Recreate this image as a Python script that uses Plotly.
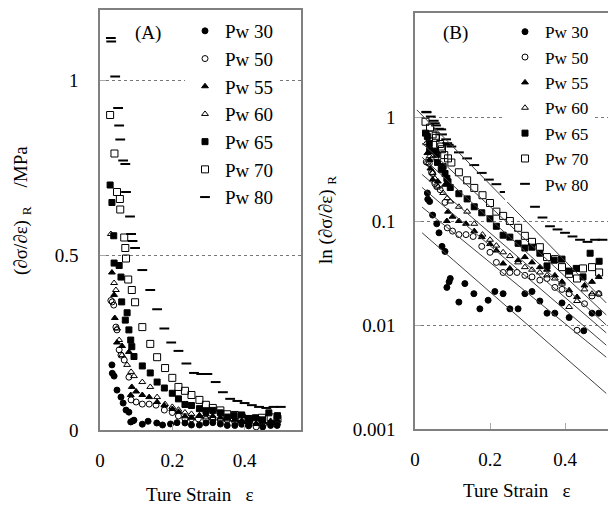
import plotly.graph_objects as go

# Strain / tangent-modulus readings for each Pw series (same data in both panels)
x30 = [0.033, 0.034, 0.039, 0.047, 0.058, 0.064, 0.072, 0.08, 0.085, 0.091, 0.094, 0.117, 0.133, 0.157, 0.173,
       0.195, 0.213, 0.235, 0.253, 0.275, 0.293, 0.312, 0.333, 0.352, 0.373, 0.392, 0.411, 0.45, 0.472, 0.49]
y30 = [0.186, 0.162, 0.154, 0.114, 0.094, 0.077, 0.057, 0.051, 0.023, 0.026, 0.028, 0.0166, 0.025, 0.020, 0.0143,
       0.0173, 0.021, 0.020, 0.0143, 0.0143, 0.020, 0.021, 0.017, 0.013, 0.013, 0.0163, 0.0118, 0.0088, 0.013, 0.013]

x50 = [0.03, 0.034, 0.038, 0.044, 0.047, 0.053, 0.058, 0.067, 0.08, 0.086, 0.1, 0.117, 0.136, 0.155, 0.178, 0.2,
       0.217, 0.235, 0.253, 0.272, 0.293, 0.312, 0.333, 0.352, 0.373, 0.392, 0.411, 0.432, 0.452, 0.472, 0.49]
y50 = [0.37, 0.366, 0.357, 0.294, 0.286, 0.229, 0.214, 0.20, 0.151, 0.086, 0.08, 0.074, 0.074, 0.071, 0.057, 0.05,
       0.04, 0.032, 0.032, 0.032, 0.03, 0.029, 0.027, 0.028, 0.023, 0.022, 0.02, 0.0089, 0.016, 0.019, 0.020]

x55 = [0.033, 0.039, 0.041, 0.047, 0.061, 0.08, 0.085, 0.088, 0.1, 0.117, 0.136, 0.158, 0.178, 0.2, 0.217, 0.235,
       0.253, 0.275, 0.293, 0.312, 0.333, 0.352, 0.373, 0.392, 0.411, 0.432, 0.452, 0.472, 0.49]
y55 = [0.45, 0.386, 0.32, 0.25, 0.24, 0.223, 0.10, 0.123, 0.11, 0.10, 0.094, 0.08, 0.07, 0.06, 0.052, 0.039,
       0.035, 0.042, 0.045, 0.04, 0.036, 0.034, 0.03, 0.026, 0.0216, 0.0186, 0.024, 0.026, 0.029]

x60 = [0.03, 0.039, 0.044, 0.047, 0.053, 0.061, 0.075, 0.086, 0.094, 0.117, 0.139, 0.158, 0.18, 0.2, 0.217, 0.235,
       0.253, 0.275, 0.293, 0.312, 0.333, 0.352, 0.373, 0.392, 0.411, 0.432, 0.452, 0.472, 0.49]
y60 = [0.56, 0.42, 0.40, 0.29, 0.257, 0.214, 0.186, 0.166, 0.154, 0.137, 0.123, 0.094, 0.074, 0.066, 0.058, 0.05,
       0.046, 0.04, 0.036, 0.034, 0.032, 0.03, 0.028, 0.025, 0.0149, 0.017, 0.022, 0.02, 0.02]

x65 = [0.028, 0.033, 0.038, 0.039, 0.053, 0.058, 0.06, 0.07, 0.075, 0.08, 0.085, 0.088, 0.094, 0.117, 0.139, 0.158,
       0.178, 0.2, 0.217, 0.235, 0.253, 0.275, 0.293, 0.312, 0.333, 0.352, 0.371, 0.392, 0.411, 0.43, 0.448, 0.467, 0.491]
y65 = [0.70, 0.65, 0.555, 0.477, 0.47, 0.437, 0.366, 0.314, 0.335, 0.286, 0.257, 0.238, 0.21, 0.183, 0.163, 0.137,
       0.12, 0.105, 0.089, 0.073, 0.070, 0.061, 0.055, 0.056, 0.049, 0.037, 0.042, 0.043, 0.033, 0.035, 0.029, 0.049, 0.041]

x70 = [0.028, 0.04, 0.047, 0.055, 0.056, 0.067, 0.07, 0.072, 0.078, 0.088, 0.097, 0.117, 0.139, 0.158, 0.18, 0.2,
       0.217, 0.235, 0.253, 0.275, 0.293, 0.312, 0.333, 0.352, 0.373, 0.392, 0.411, 0.432, 0.448, 0.472, 0.491]
y70 = [0.90, 0.79, 0.68, 0.66, 0.63, 0.55, 0.52, 0.49, 0.43, 0.40, 0.365, 0.294, 0.246, 0.208, 0.177, 0.149,
       0.123, 0.112, 0.10, 0.086, 0.072, 0.063, 0.056, 0.045, 0.043, 0.036, 0.031, 0.028, 0.035, 0.036, 0.032]

x80 = [0.03, 0.031, 0.042, 0.05, 0.053, 0.056, 0.064, 0.07, 0.072, 0.083, 0.086, 0.09, 0.097, 0.117, 0.139, 0.158,
       0.178, 0.197, 0.217, 0.239, 0.26, 0.28, 0.297, 0.32, 0.34, 0.36, 0.38, 0.40, 0.42, 0.44, 0.46, 0.48, 0.50]
y80 = [1.12, 1.11, 1.01, 0.92, 0.87, 0.83, 0.77, 0.76, 0.68, 0.61, 0.56, 0.54, 0.52, 0.457, 0.40, 0.345,
       0.29, 0.25, 0.226, 0.19, 0.163, 0.16, 0.16, 0.137, 0.108, 0.089, 0.083, 0.077, 0.071, 0.066, 0.063, 0.066, 0.066]

series_names = ["Pw 30", "Pw 50", "Pw 55", "Pw 60", "Pw 65", "Pw 70", "Pw 80"]
series_x = [x30, x50, x55, x60, x65, x70, x80]
series_y = [y30, y50, y55, y60, y65, y70, y80]

# Exponential fit lines of panel B (straight on the log axis): start/end points
fit_x0 = [0.005, 0.019, 0.019, 0.019, 0.019, 0.019, 0.019]
fit_y0 = [1.17, 0.56, 0.41, 0.28, 0.21, 0.136, 0.077]
fit_x1 = [0.51, 0.51, 0.51, 0.51, 0.51, 0.51, 0.51]
fit_y1 = [0.0163, 0.0125, 0.0100, 0.0084, 0.0064, 0.0049, 0.0022]

# Tick labels
xticks = [0, 0.2, 0.4]
xtick_text = ["0", "0.2", "0.4"]
ya_ticks = [0, 0.5, 1]
ya_text = ["0", "0.5", "1"]
yb_ticks = [0.001, 0.01, 0.1, 1, 10]
yb_text = ["0.001", "0.01", "0.1", "1", "10"]

# marker styling per series
symbols = ["circle", "circle-open", "triangle-up", "triangle-up-open", "square", "square-open", "line-ew"]
sizes = [6, 6, 6, 6, 6, 7, 7]

# page body has an 8px margin, so the figure is 8px smaller and all
# positions below are given in window pixels and shifted by OFF
OFF = 8
W, H = 616 - OFF, 506 - OFF
FONT = "Liberation Serif"
AXC = "#808080"


def px(x):
    return (x - OFF) / W


def py(y):
    return 1 - (y - OFF) / H


fig = go.Figure()

for name, xs, ys, sym, sz in zip(series_names, series_x, series_y, symbols, sizes):
    marker = dict(symbol=sym, size=sz, color="black", line=dict(color="black", width=1))
    if sym == "line-ew":
        marker["line"] = dict(color="black", width=2)
    # panel A (linear)
    fig.add_trace(go.Scatter(x=xs, y=ys, mode="markers", name=name, marker=marker,
                             xaxis="x", yaxis="y", legend="legend"))
    # panel B (log)
    fig.add_trace(go.Scatter(x=xs, y=ys, mode="markers", name=name, marker=marker,
                             xaxis="x2", yaxis="y2", legend="legend2"))

# fit lines
for a, b, c, d in zip(fit_x0, fit_y0, fit_x1, fit_y1):
    fig.add_trace(go.Scatter(x=[a, c], y=[b, d], mode="lines", line=dict(color="#404040", width=1),
                             xaxis="x2", yaxis="y2", showlegend=False, hoverinfo="skip"))

axis_common = dict(showline=True, linecolor=AXC, linewidth=1.5, ticks="inside", ticklen=6,
                   tickcolor="#aaaaaa", zeroline=False, automargin=False,
                   tickfont=dict(family=FONT, size=19, color="black"))

fig.update_layout(
    width=W, height=H,
    paper_bgcolor="white", plot_bgcolor="white",
    margin=dict(l=0, r=0, t=0, b=0, autoexpand=False),
    font=dict(family=FONT, size=19, color="black"),
    xaxis=dict(domain=[px(100), px(301)], range=[0, 0.556], tickvals=xticks, ticktext=xtick_text,
               showgrid=False, mirror=True, anchor="y", ticklabelstandoff=12, **axis_common),
    yaxis=dict(domain=[py(430), py(10)], range=[0, 1.2], tickvals=ya_ticks, ticktext=ya_text,
               showgrid=True, gridcolor="#777777", griddash="dot", gridwidth=1, mirror=True, anchor="x",
               ticklabelstandoff=16, **axis_common),
    xaxis2=dict(domain=[px(415), 1], range=[0, 0.536], tickvals=xticks, ticktext=xtick_text,
                showgrid=False, mirror=True, anchor="y2", ticklabelstandoff=12, **axis_common),
    yaxis2=dict(domain=[py(429), py(13)], type="log", range=[-3, 1], tickvals=yb_ticks,
                ticktext=yb_text, showgrid=True, gridcolor="#777777", griddash="dot", gridwidth=1,
                anchor="x2", ticklabelstandoff=14, **axis_common),
    legend=dict(x=px(185), y=py(12), xanchor="left", yanchor="top", bgcolor="white",
                font=dict(family=FONT, size=19), itemwidth=30, tracegroupgap=0),
    legend2=dict(x=px(505), y=py(14), xanchor="left", yanchor="top", bgcolor="white",
                 font=dict(family=FONT, size=17.2), itemwidth=30, tracegroupgap=0),
    showlegend=True,
)


# panel tags and axis titles
def ann(text, x, y, angle=0, size=19):
    fig.add_annotation(text=text, x=px(x), y=py(y), xref="paper", yref="paper", showarrow=False,
                       textangle=angle, font=dict(family=FONT, size=size, color="black"),
                       xanchor="center", yanchor="middle")


ann("(A)", 148, 33)
ann("(B)", 455, 33)
ann("Ture Strain\u00a0\u00a0\u00a0ε", 200, 494)
ann("Ture Strain\u00a0\u00a0\u00a0ε", 517, 490)
ann("(∂σ/∂ε)\u00a0<sub>R</sub>\u00a0\u00a0\u00a0\u00a0/MPa", 22, 211, angle=-90)
ann("ln\u00a0(∂σ/∂ε)\u00a0<sub>R</sub>", 327, 220, angle=-90)

fig.write_html("out.html")
